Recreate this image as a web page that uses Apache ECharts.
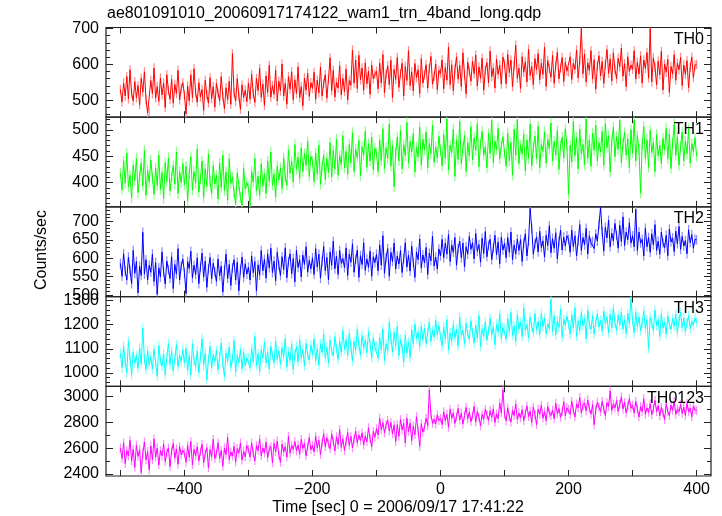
<!DOCTYPE html>
<html><head><meta charset="utf-8">
<script src="https://cdn.jsdelivr.net/npm/echarts@6/dist/echarts.min.js"></script>
<style>html,body{margin:0;padding:0;background:#fff}#c{width:722px;height:516px}</style>
</head><body><div id="c"></div>
<script>
// ---- time grid (bin start -500 s, 2.5 s bins) ----
const T_START = -500, T_STEP = 2.5, N_BINS = 361;
const times = [];
for (let i = 0; i < N_BINS; i++) times.push(T_START + i * T_STEP);

// ---- count rates (counts/sec) ----
const th0 = [
530,495,548,512,566,504,585,520,498,552,
507,541,488,561,523,579,502,465,470,555,
518,590,506,538,497,562,515,548,480,571,
527,503,558,492,544,519,583,501,533,549,
515,462,540,498,571,507,588,521,495,549,
509,530,472,556,516,492,563,505,538,481,
547,520,499,566,511,476,535,502,553,489,
630,521,498,560,512,475,543,508,528,496,
548,503,572,519,494,561,527,589,508,545,
486,568,522,597,509,541,517,584,498,553,
526,601,512,547,489,566,531,579,502,557,
519,593,507,538,485,562,528,575,511,549,
533,578,503,556,521,592,512,547,571,506,
559,618,527,583,509,550,534,596,515,561,
524,587,501,555,542,640,548,612,533,625,
557,590,528,604,546,581,517,598,560,572,
581,532,603,548,627,521,572,596,543,611,
507,586,558,619,536,574,603,512,594,555,
638,541,579,526,602,563,585,519,616,548,
571,599,534,588,622,545,567,601,530,583,
575,612,532,591,556,648,544,599,527,586,
621,559,597,538,632,571,518,606,581,553,
609,574,626,540,593,561,617,528,584,605,
549,637,566,590,534,614,572,598,545,620,
601,546,628,577,612,538,596,653,561,589,
533,621,578,607,551,642,569,594,543,616,
585,630,557,603,572,648,539,611,588,564,
625,547,598,634,560,590,619,552,606,581,
579,621,558,603,586,640,562,611,700,574,
629,551,604,583,638,559,613,531,596,624,
568,608,547,599,641,575,615,554,632,586,
560,617,593,645,567,602,538,621,580,598,
586,638,559,606,573,624,548,612,589,633,
562,700,551,618,592,543,609,571,636,529,
601,578,614,522,594,573,627,556,603,585,
619,541,598,572,610,535,592,620,563,598,
600];
const th1 = [
418,386,441,399,456,392,414,371,433,404,
446,381,412,437,394,461,376,423,401,443,
409,378,428,395,452,387,419,370,438,402,
447,384,411,432,397,458,379,421,400,436,
396,431,366,417,449,386,421,399,464,382,
407,441,372,426,393,454,403,379,432,398,
414,369,437,391,452,385,420,367,445,398,
410,381,359,418,395,372,357,427,388,400,
391,356,421,401,446,384,412,376,436,393,
417,379,441,402,458,395,416,373,432,405,
428,389,447,410,395,462,418,440,401,472,
425,448,408,466,421,455,433,478,412,450,
441,402,456,416,471,397,431,452,406,446,
419,476,411,461,426,482,414,451,434,489,
428,459,416,472,438,495,421,463,447,480,
413,468,452,497,429,474,441,486,424,465,
456,421,481,442,502,427,466,446,511,431,
471,392,457,486,441,499,426,472,451,514,
437,478,458,493,420,467,449,505,433,482,
462,496,428,474,455,509,439,468,447,488,
461,432,491,446,521,424,471,457,501,412,
481,444,516,436,466,489,421,476,451,506,
443,485,461,512,430,474,497,452,468,428,
493,455,518,438,479,462,503,445,470,487,
456,431,494,441,476,414,501,452,519,436,
471,454,491,422,481,446,511,432,466,488,
445,507,428,473,459,496,437,482,464,513,
441,478,452,499,425,470,486,447,502,469,
378,471,439,516,451,486,426,501,454,472,
434,521,446,481,431,494,461,509,441,476,
458,497,433,512,466,489,420,478,505,449,
487,463,518,438,474,495,452,483,428,500,
456,519,441,489,463,380,472,506,446,481,
429,499,457,476,421,491,451,471,436,484,
462,503,445,492,427,475,511,452,487,433,
468,496,441,479,455,502,437,474,459,485,
450];
const th2 = [
586,551,612,566,541,603,568,531,621,559,
591,506,578,553,670,557,596,541,581,562,
611,537,588,502,574,549,617,563,530,592,
569,545,604,518,583,557,626,541,579,598,
561,504,591,572,619,546,581,556,601,531,
576,614,549,592,521,571,602,544,586,563,
537,598,552,579,508,567,611,545,583,526,
574,596,541,589,512,569,603,548,585,557,
576,541,606,561,591,511,582,554,621,566,
597,546,612,574,627,561,592,539,616,581,
553,604,569,628,547,591,612,558,599,536,
621,575,596,549,608,583,631,562,594,571,
601,556,626,576,611,546,591,632,566,602,
541,617,581,646,571,606,556,621,586,599,
574,628,553,611,589,639,562,597,622,548,
607,583,642,567,598,575,619,551,604,588,
611,566,636,581,661,559,601,626,551,616,
591,641,571,606,584,621,561,599,642,576,
608,565,633,589,548,617,596,652,573,609,
587,629,556,614,593,660,579,603,571,625,
606,651,601,641,611,664,591,636,616,656,
581,626,646,601,641,576,631,611,659,624,
642,598,667,619,637,589,654,613,672,604,
635,651,596,628,662,609,644,585,657,622,
641,601,656,616,671,596,636,611,652,621,
651,591,641,666,606,646,735,681,611,639,
658,617,673,629,647,603,662,634,688,615,
653,627,669,598,645,676,622,657,633,661,
651,616,676,631,661,606,646,691,621,656,
636,681,611,661,641,646,626,666,646,691,
738,672,619,684,655,703,631,668,647,694,
662,627,689,645,712,634,671,650,696,641,
661,631,732,621,671,641,651,606,681,631,
656,616,666,636,691,621,646,611,671,641,
628,662,607,679,644,655,618,673,639,686,
624,659,633,648,612,677,642,664,627,651,
650];
const th3 = [
1081,1021,1111,1046,1001,1131,1061,991,1086,1041,
1072,1019,1103,1038,1186,1057,1014,1092,1033,1068,
1016,1097,1044,986,1113,1052,1028,1079,993,1064,
1122,1035,1089,1008,1059,1117,1026,1074,1047,1096,
1041,1101,1011,1071,991,1121,1051,1026,1091,1001,
1066,1141,1031,1081,971,1056,1111,1021,1076,1046,
1093,1013,1068,1124,1037,984,1082,1049,1107,1022,
1058,1134,1003,1073,1042,1098,1017,1085,1029,1062,
1061,1021,1101,1046,1151,1031,1081,1006,1096,1061,
1126,1041,1086,1016,1111,1071,1041,1131,1056,1091,
1035,1104,1067,1142,1024,1088,1052,1119,1013,1077,
1109,1046,1138,1062,1097,1028,1123,1071,1054,1116,
1076,1141,1051,1101,1031,1121,1086,1161,1061,1106,
1041,1136,1091,1071,1151,1101,1056,1131,1086,1176,
1097,1138,1072,1164,1108,1049,1129,1093,1182,1115,
1074,1156,1102,1137,1083,1171,1118,1062,1146,1109,
1111,1061,1146,1096,1181,1051,1121,1091,1211,1141,
1087,1168,1113,1194,1072,1139,1106,1044,1157,1082,
1128,1063,1179,1121,1203,1142,1171,1109,1195,1137,
1186,1122,1168,1210,1131,1177,1149,1219,1158,1196,
1151,1111,1191,1141,1221,1096,1166,1131,1201,1146,
1181,1111,1231,1156,1176,1121,1206,1161,1141,1216,
1167,1124,1198,1145,1238,1109,1183,1152,1212,1136,
1174,1227,1158,1191,1117,1203,1169,1244,1143,1188,
1186,1141,1226,1171,1251,1156,1196,1131,1241,1181,
1211,1151,1271,1176,1201,1146,1231,1191,1166,1246,
1178,1213,1159,1247,1192,1228,1163,1203,1185,1305,
1172,1238,1157,1216,1189,1264,1148,1222,1198,1235,
1201,1161,1241,1186,1271,1151,1216,1176,1251,1196,
1226,1141,1261,1201,1181,1236,1161,1211,1246,1191,
1218,1173,1257,1204,1232,1166,1244,1187,1268,1209,
1176,1239,1198,1253,1183,1221,1162,1247,1205,1310,
1216,1166,1251,1191,1232,1175,1207,1258,1183,1221,
1101,1231,1206,1176,1261,1196,1221,1151,1246,1186,
1211,1161,1236,1201,1181,1226,1194,1243,1168,1217,
1252,1189,1228,1171,1209,1237,1183,1214,1198,1229,
1210];
const th0123 = [
2601,2521,2641,2481,2581,2541,2661,2501,2591,2451,
2623,2537,2588,2412,2562,2648,2509,2574,2433,2617,
2511,2671,2531,2601,2471,2581,2541,2631,2497,2566,
2602,2458,2579,2636,2523,2594,2476,2612,2548,2583,
2561,2491,2621,2531,2651,2471,2591,2541,2611,2501,
2573,2629,2486,2557,2604,2448,2589,2532,2668,2519,
2561,2641,2521,2581,2461,2601,2551,2681,2511,2571,
2538,2614,2493,2597,2562,2640,2507,2576,2533,2619,
2591,2531,2641,2561,2501,2621,2581,2671,2541,2601,
2563,2648,2527,2592,2612,2486,2637,2571,2655,2546,
2491,2631,2571,2611,2531,2691,2561,2621,2591,2651,
2578,2624,2553,2667,2598,2636,2542,2609,2681,2587,
2621,2571,2691,2601,2661,2551,2641,2711,2611,2681,
2634,2596,2708,2653,2579,2688,2627,2742,2606,2672,
2581,2651,2721,2621,2691,2601,2671,2731,2641,2701,
2659,2718,2624,2694,2648,2757,2673,2611,2729,2684,
2751,2701,2831,2741,2796,2716,2781,2816,2732,2798,
2711,2779,2651,2781,2691,2821,2741,2791,2641,2831,
2727,2793,2658,2769,2704,2842,2737,2614,2788,2723,
2761,2831,2772,3050,2861,2791,2821,2786,2857,2813,
2831,2781,2881,2811,2861,2761,2901,2831,2871,2791,
2843,2906,2817,2869,2785,2852,2914,2826,2878,2804,
2851,2921,2801,2881,2841,2771,2861,2821,2901,2856,
2812,2889,2837,2903,2798,2864,2828,2947,2872,3050,
2861,2811,2911,2841,2801,2891,2851,2941,2821,2871,
2834,2897,2812,2868,2926,2843,2885,2798,2917,2859,
2781,2901,2861,2931,2831,2881,2811,2921,2871,2851,
2893,2827,2946,2864,2905,2838,2882,2958,2849,2912,
2901,2861,2961,2891,2841,2941,2911,2991,2871,2931,
2948,2887,2972,2906,2862,2935,2780,2898,2954,2917,
2881,2961,2901,2851,2951,2921,3041,2891,2941,2911,
2967,2884,2938,2996,2902,2953,2871,2926,2982,2908,
2931,2871,2961,2901,2841,2921,2881,2981,2861,2911,
2876,2942,2857,2903,2968,2882,2927,2849,2914,2873,
2821,2941,2881,2851,2931,2891,2961,2861,2901,2881,
2936,2868,2917,2852,2945,2879,2908,2842,2924,2895,
2890];
// estimated 1-sigma error of each panel's points (counts/sec)
const errors = [13, 10, 13, 20, 34];

// ---- labels / ticks ----
const panelNames = ['TH0', 'TH1', 'TH2', 'TH3', 'TH0123'];
const xLabels = [-400, -200, 0, 200, 400];
const xTicks = [-500, -400, -300, -200, -100, 0, 100, 200, 300, 400];
const yMajor = [[500, 600, 700], [400, 450, 500], [500, 550, 600, 650, 700], [1000, 1100, 1200, 1300], [2400, 2600, 2800, 3000]];
const yMinorStep = [20, 10, 10, 20, 100];
const yRange = [[453, 702.5], [354, 524], [496, 739], [944, 1317], [2385, 3077]];
const titleText = 'ae801091010_20060917174122_wam1_trn_4band_long.qdp';
const xName = 'Time [sec] 0 = 2006/09/17 17:41:22';
const yName = 'Counts/sec';

// ---- styles ----
const series = [th0, th1, th2, th3, th0123];
const colors = ['#ff0000', '#00ff00', '#0000ff', '#00ffff', '#ff00ff'];
const halos = ['#ff8c8c', '#8cff8c', '#8c8cff', '#8cffff', '#ff8cff'];
const FONT = 'Liberation Sans, Arial, Helvetica, sans-serif';
const XMIN = -522.5, XMAX = 422.5;
const G_LEFT = 106, G_W = 605, G_TOP = 27.5, G_H = 89.7;
const AX = '#222';

const grids = [], xAxes = [], yAxes = [], ser = [], graphics = [];
const fmt = v => (v < 0 ? '\u2212' + (-v) : String(v));

for (let i = 0; i < 5; i++) {
  const top = G_TOP + i * G_H;
  grids.push({left: G_LEFT, top: top, width: G_W, height: G_H, show: true,
    borderColor: AX, borderWidth: 1.2, backgroundColor: 'transparent'});
  ['bottom', 'top'].forEach(pos => {
    xAxes.push({type: 'value', gridIndex: i, min: XMIN, max: XMAX, position: pos,
      axisLine: {show: false, onZero: false}, splitLine: {show: false},
      axisTick: {show: true, inside: true, length: 6, customValues: xTicks, lineStyle: {color: AX, width: 1}},
      axisLabel: {show: pos === 'bottom' && i === 4, customValues: xLabels, formatter: fmt,
        margin: 6, fontSize: 16, color: '#000', fontFamily: FONT}});
  });
  const [mn, mx] = yRange[i];
  const minor = [];
  const st = yMinorStep[i];
  for (let v = Math.ceil(mn / st) * st; v <= mx; v += st) if (yMajor[i].indexOf(v) < 0) minor.push(v);
  ['left', 'right'].forEach(pos => {
    yAxes.push({type: 'value', gridIndex: i, min: mn, max: mx, position: pos,
      axisLine: {show: false, onZero: false}, splitLine: {show: false},
      axisTick: {show: true, inside: true, length: 7, customValues: yMajor[i], lineStyle: {color: AX, width: 1}},
      axisLabel: {show: pos === 'left', customValues: yMajor[i], formatter: v => String(v), margin: 7, fontSize: 16,
        color: '#000', fontFamily: FONT}});
    yAxes.push({type: 'value', gridIndex: i, min: mn, max: mx, position: pos,
      axisLine: {show: false, onZero: false}, splitLine: {show: false},
      axisTick: {show: true, inside: true, length: 4, customValues: minor, lineStyle: {color: AX, width: 1}},
      axisLabel: {show: false}});
  });
  const pts = times.map((t, k) => [t, series[i][k]]);
  const e = errors[i], hc = halos[i];
  ser.push({type: 'custom', xAxisIndex: i * 2, yAxisIndex: i * 4, data: pts, silent: true, clip: true, z: 1,
    encode: {x: 0, y: 1},
    renderItem: (params, api) => {
      const t = api.value(0), v = api.value(1);
      const a = api.coord([t, v - e]), b = api.coord([t, v + e]);
      return {type: 'line', shape: {x1: a[0], y1: a[1], x2: b[0], y2: b[1]},
        style: {stroke: hc, lineWidth: 1.2}};
    }});
  ser.push({type: 'line', xAxisIndex: i * 2, yAxisIndex: i * 4, data: pts, symbol: 'none',
    silent: true, lineStyle: {color: colors[i], width: 1}, z: 2});
  graphics.push({type: 'text', right: 722 - 704, top: top + 4, z: 10,
    style: {text: panelNames[i], font: '16px ' + FONT, fill: '#000', textAlign: 'right'}});
}

graphics.push({type: 'text', left: 107, top: 6, style: {text: titleText, font: '16px ' + FONT, fill: '#000'}});
graphics.push({type: 'text', x: 398, y: 508, style: {text: xName, font: '16px ' + FONT, fill: '#000',
  textAlign: 'center', textVerticalAlign: 'middle'}});
graphics.push({type: 'text', x: 42, y: 250, rotation: Math.PI / 2, style: {text: yName, font: '16px ' + FONT,
  fill: '#000', textAlign: 'center', textVerticalAlign: 'middle'}});

const chart = echarts.init(document.getElementById('c'), null, {renderer: 'canvas'});
chart.setOption({animation: false, backgroundColor: '#fff', grid: grids, xAxis: xAxes, yAxis: yAxes,
  series: ser, graphic: graphics});
</script></body></html>
